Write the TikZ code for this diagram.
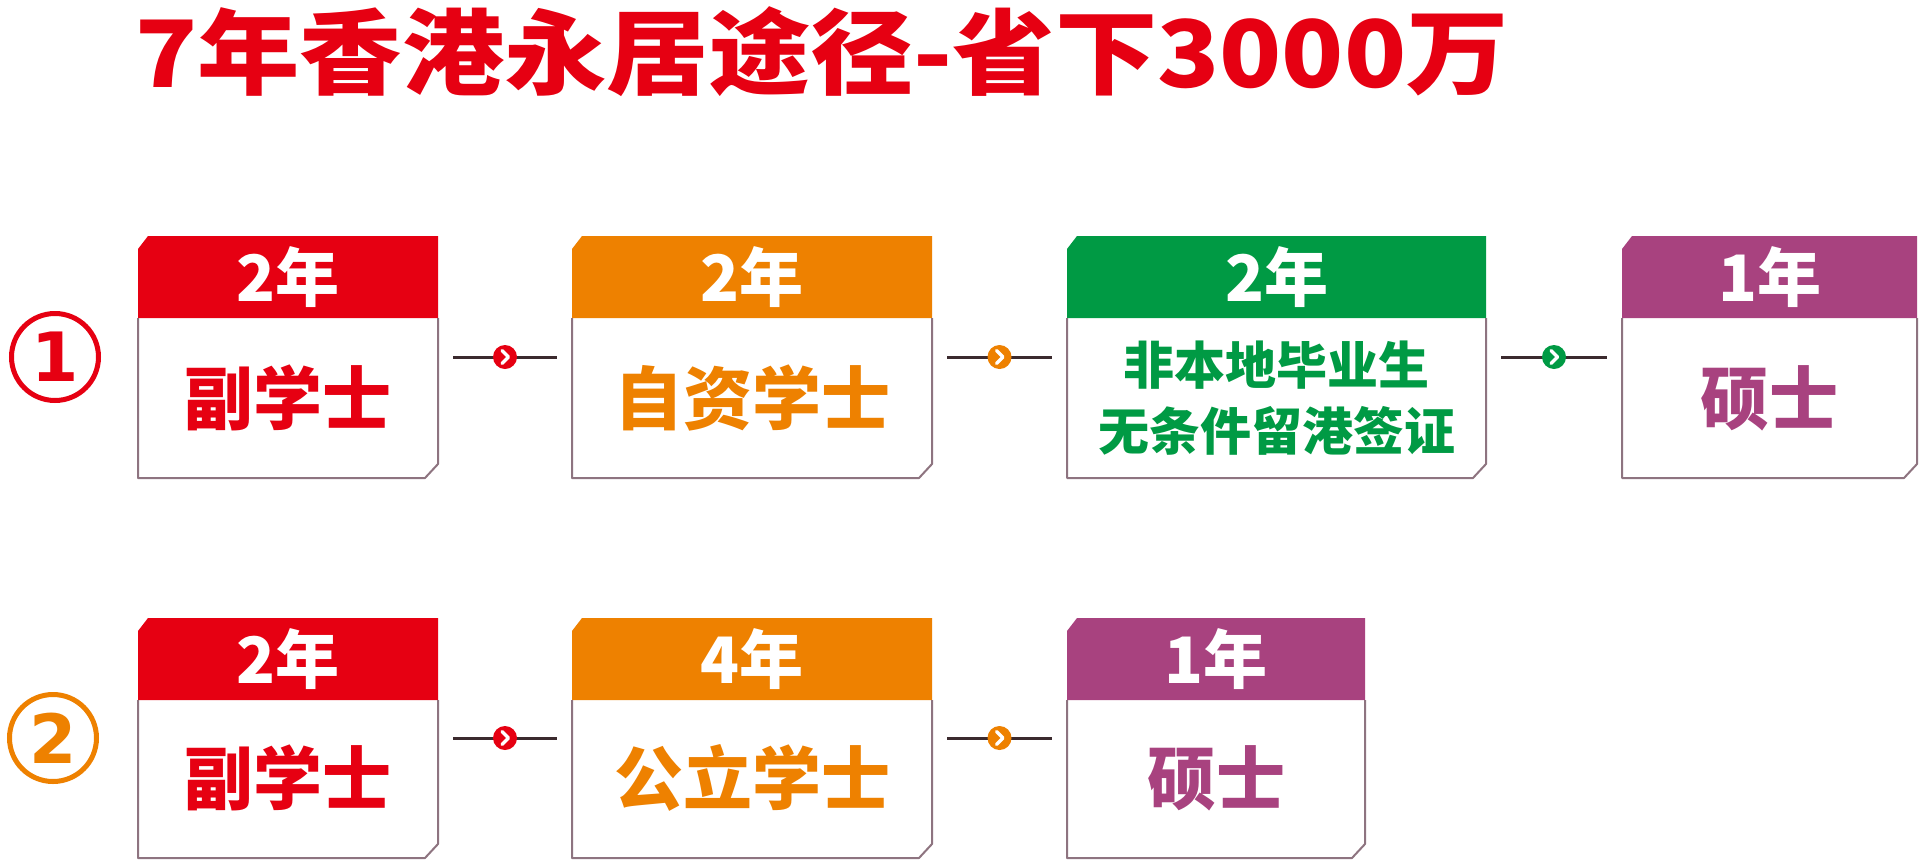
\documentclass[tikz,border=0pt]{standalone}
\usepackage{fontspec}
\newfontfamily\cjk{Noto Sans CJK SC}
\newfontfamily\dvs{DejaVu Sans}
\usetikzlibrary{calc}
\definecolor{cred}{HTML}{E60012}
\definecolor{corange}{HTML}{EE8100}
\definecolor{cgreen}{HTML}{009A44}
\definecolor{cpurple}{HTML}{A8427F}
\definecolor{cedge}{HTML}{8E7480}
\definecolor{cline}{HTML}{3B2A2E}
\tikzset{
  cardbox/.style={rectangle, inner sep=0pt, outer sep=0pt},
  cardedge/.style={draw=cedge, line width=2pt, line join=round},
  hdrtext/.style={inner sep=0pt, text=white, font=\cjk\bfseries\fontsize{64}{64}\selectfont},
  bodytext/.style={inner sep=0pt, font=\cjk\bfseries\fontsize{69}{69}\selectfont},
  smallbody/.style={inner sep=0pt, align=center, font=\cjk\bfseries\fontsize{51}{66}\selectfont},
  numcircle/.style={circle, line width=5pt, minimum size=87pt, inner sep=0pt,
    font=\dvs\bfseries\fontsize{68}{68}\selectfont},
  connline/.style={draw=cline, line width=3pt},
  linkdot/.style={circle, minimum size=24pt, inner sep=0pt},
  chev/.style={draw=white, line width=3.5pt, line cap=round, line join=round},
  titletext/.style={inner sep=0pt, text=cred, font=\cjk\bfseries\fontsize{93}{93}\selectfont},
}
\newcommand\card[7]{%
  \node[cardbox, minimum width=#4pt, minimum height=#5pt] (#1) at (#2,#3) {};
  \fill[#6] ($(#1.north west)+(0,13)$) -- ($(#1.north west)+(10,0)$) -- (#1.north east)
    -- ($(#1.north east)+(0,82)$) -- ($(#1.north west)+(0,82)$) -- cycle;
  \draw[cardedge] ($(#1.north west)+(0,82)$) -- (#1.south west) -- ($(#1.south east)+(-13,0)$)
    -- ($(#1.south east)+(0,-14)$) -- ($(#1.north east)+(0,82)$);
  \node[hdrtext] (#1-h) at ($(#1.north)+(0,41)$) {#7};
}
\newcommand\link[4]{%
  \draw[connline] ([xshift=15pt]#1.east) -- ([xshift=-15pt]#2.west);
  \node[linkdot, fill=#4] (#3) at ($(#1.east)!.5!(#2.west)$) {};
  \draw[chev] ($(#3)+(-3,-6.5)$) -- ($(#3)+(3.5,0)$) -- ($(#3)+(-3,6.5)$);
}
\begin{document}
\begin{tikzpicture}[x=1pt,y=-1pt]
\useasboundingbox (0,0) rectangle (1920,860);
\fill[white] (0,0) rectangle (1920,860);

\node[titletext] (title) at (822,52) {\scalebox{1.1}[1]{7年香港永居途径-省下3000万}};

% row 1
\node[numcircle, draw=cred, text=cred] (n1) at (55,357) {1};
\card{c11}{288}{357}{300}{242}{cred}{2年}
\card{c12}{752}{357}{360}{242}{corange}{2年}
\card{c13}{1276.5}{357}{419}{242}{cgreen}{2年}
\card{c14}{1769.5}{357}{295}{242}{cpurple}{1年}
\node[bodytext, text=cred] (c11-b) at ($(c11.south)+(0,-80)$) {副学士};
\node[bodytext, text=corange] (c12-b) at ($(c12.south)+(0,-80)$) {自资学士};
\node[smallbody, text=cgreen] (c13-b) at ($(c13.south)+(0,-80)$) {非本地毕业生\\无条件留港签证};
\node[bodytext, text=cpurple] (c14-b) at ($(c14.south)+(0,-80)$) {硕士};
\link{c11}{c12}{d11}{cred}
\link{c12}{c13}{d12}{corange}
\link{c13}{c14}{d13}{cgreen}

% row 2
\node[numcircle, draw=corange, text=corange] (n2) at (53,738) {2};
\card{c21}{288}{738}{300}{240}{cred}{2年}
\card{c22}{752}{738}{360}{240}{corange}{4年}
\card{c23}{1216}{738}{298}{240}{cpurple}{1年}
\node[bodytext, text=cred] (c21-b) at ($(c21.south)+(0,-80)$) {副学士};
\node[bodytext, text=corange] (c22-b) at ($(c22.south)+(0,-80)$) {公立学士};
\node[bodytext, text=cpurple] (c23-b) at ($(c23.south)+(0,-80)$) {硕士};
\link{c21}{c22}{d21}{cred}
\link{c22}{c23}{d22}{corange}
\end{tikzpicture}
\end{document}
